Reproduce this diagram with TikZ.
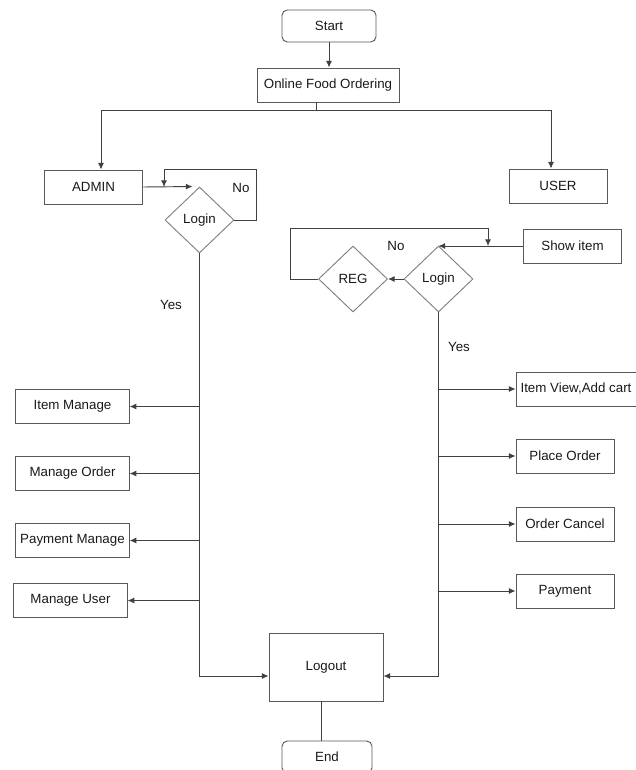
\documentclass[tikz,border=0pt]{standalone}
\usepackage{fontspec}
\setmainfont{Liberation Sans}
\usetikzlibrary{shapes.geometric,calc,arrows.meta}
\begin{document}
\begin{tikzpicture}
    [
    x=0.75pt, y=-0.75pt,
    font=\fontsize{10}{12}\selectfont,
    box/.style={rectangle,draw=black!65,line width=0.7pt,text=black!90,inner sep=2pt,minimum height=25.5pt},
    term/.style={box,rounded corners=4pt,minimum height=24pt},
    decision/.style={diamond,draw=black!50,line width=0.7pt,text=black!90,inner sep=0pt,minimum width=51.75pt,minimum height=49.5pt},
    conn/.style={black!75,line width=0.7pt},
    arr/.style={conn,-{Latex[length=5pt,width=4.5pt]}},
    tag/.style={text=black!90}
    ]
    \useasboundingbox (0,0) rectangle (635,770);
    \node (start) at (329,26) [term,minimum width=70.5pt] {Start};
    \node (ofo) at (328,85) [box,minimum width=106.5pt] {Online Food Ordering};
    \node (admin) at (93.5,187) [box,minimum width=74pt] {ADMIN};
    \node (user) at (558,186) [box,minimum width=73.5pt] {USER};
    \node (logina) at (199.5,220) [decision] {Login};
    \node (noa) at (241,188) [tag] {No};
    \node (yesa) at (171,305) [tag] {Yes};
    \node (itemman) at (72.5,406.5) [box,minimum width=85pt] {Item Manage};
    \node (manorder) at (72.5,473.5) [box,minimum width=85pt] {Manage Order};
    \node (payman) at (72.5,540.5) [box,minimum width=85pt] {Payment Manage};
    \node (manuser) at (70.5,600.5) [box,minimum width=85pt] {Manage User};
    \node (showitem) at (572.5,246) [box,minimum width=74pt] {Show item};
    \node (loginu) at (438.5,279) [decision] {Login};
    \node (reg) at (353,279) [decision] {REG};
    \node (nou) at (396,246) [tag] {No};
    \node (yesu) at (459,347) [tag] {Yes};
    \node (itemview) at (576,389) [box,minimum width=90pt] {Item View,Add cart};
    \node (placeorder) at (565,456) [box,minimum width=73.5pt] {Place Order};
    \node (ordercancel) at (565,524) [box,minimum width=73.5pt] {Order Cancel};
    \node (payment) at (565,591) [box,minimum width=73.5pt] {Payment};
    \node (logout) at (326,667) [box,minimum width=85.5pt,minimum height=51pt] {Logout};
    \node (end) at (327,757) [term,minimum width=67.5pt] {End};
    \coordinate (split) at (316,110);
    \coordinate (backa) at (164,187);
    \coordinate (backu) at (488,246);

    \draw [arr] (start.south) -- (start.south |- ofo.north);
    \draw [conn] (ofo.south -| split) -- (split);
    \draw [arr] (split) -| ($(admin.north)+(7.5,0)$);
    \draw [arr] (split) -| ($(user.north)+(-7,0)$);

    \draw [arr] (admin.east) -- ($(logina.north)+(-7,0)$);
    \draw [arr] (logina.east) -| ++(22,-51) -| (backa);
    \draw [arr] (logina.south |- itemman) -- (itemman.east);
    \draw [arr] (logina.south |- manorder) -- (manorder.east);
    \draw [arr] (logina.south |- payman) -- (payman.east);
    \draw [arr] (logina.south |- manuser) -- (manuser.east);
    \draw [arr] (logina.south) |- ($(logout.west)+(0,9)$);

    \draw [arr] (showitem.west) -- (showitem.west -| loginu.north);
    \draw [arr] (loginu.west) -- (reg.east);
    \draw [arr] (reg.west) -| ++(-28,-51) -| (backu);
    \draw [arr] (loginu.south |- itemview) -- (itemview.west);
    \draw [arr] (loginu.south |- placeorder) -- (placeorder.west);
    \draw [arr] (loginu.south |- ordercancel) -- (ordercancel.west);
    \draw [arr] (loginu.south |- payment) -- (payment.west);
    \draw [arr] (loginu.south) |- ($(logout.east)+(0,9)$);

    \draw [conn] ($(logout.south)+(-5,0)$) -- ($(logout.south |- end.north)+(-5,0)$);
  \end{tikzpicture}
\end{document}
